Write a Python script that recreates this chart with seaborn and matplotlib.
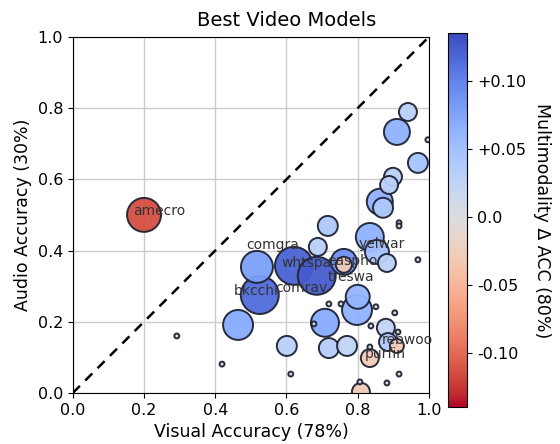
import numpy as np
import pandas as pd
import matplotlib
matplotlib.use("Agg")
import matplotlib.pyplot as plt
import seaborn as sns
from matplotlib.colors import Normalize
from matplotlib.cm import ScalarMappable

# ---- data ----
visual_acc = [0.200, 0.517, 0.525, 0.621, 0.685, 0.464, 0.601, 0.292, 0.419, 0.612,
              0.716, 0.688, 0.761, 0.761, 0.834, 0.854, 0.882, 0.969, 0.941, 0.910,
              0.997, 0.969, 0.899, 0.888, 0.862, 0.871, 0.916, 0.916, 0.800, 0.798,
              0.719, 0.753, 0.851, 0.904, 0.837, 0.913, 0.834, 0.916, 0.882, 0.806,
              0.677, 0.708, 0.719, 0.770, 0.879, 0.885, 0.910, 0.834, 0.809]
audio_acc = [0.500, 0.354, 0.275, 0.357, 0.329, 0.191, 0.132, 0.160, 0.081, 0.053,
             0.469, 0.410, 0.368, 0.360, 0.438, 0.396, 0.365, 0.374, 0.789, 0.733,
             0.711, 0.646, 0.607, 0.584, 0.537, 0.520, 0.478, 0.469, 0.270, 0.233,
             0.250, 0.250, 0.242, 0.225, 0.188, 0.171, 0.129, 0.053, 0.028, 0.031,
             0.194, 0.197, 0.126, 0.132, 0.183, 0.143, 0.132, 0.098, 0.003]
delta_acc = [-0.115, 0.08, 0.115, 0.12, 0.125, 0.07, 0.03, 0.0, 0.0, 0.0,
             0.04, 0.03, 0.09, -0.03, 0.065, 0.05, 0.03, 0.0, 0.03, 0.065,
             0.0, 0.045, 0.03, 0.03, 0.065, 0.04, 0.0, 0.0, 0.06, 0.065,
             0.0, 0.0, 0.0, 0.0, 0.0, 0.0, 0.0, 0.0, 0.0, 0.0,
             0.0, 0.07, 0.035, 0.025, 0.025, 0.04, -0.03, -0.03, -0.03]
support = [289, 256, 361, 361, 361, 225, 100, 6, 6, 6,
           100, 81, 169, 64, 196, 144, 81, 6, 81, 169,
           6, 100, 81, 81, 169, 100, 6, 6, 144, 225,
           6, 6, 6, 6, 6, 6, 6, 6, 6, 6,
           6, 196, 100, 100, 81, 81, 49, 81, 81]

label_names = ["amecro", "comgra", "whtspa", "easpho", "yelwar",
               "treswa", "bkcchi", "comrav", "rebwoo", "purfin"]
label_x = [0.244, 0.562, 0.657, 0.784, 0.868, 0.780, 0.514, 0.643, 0.938, 0.876]
label_y = [0.511, 0.416, 0.365, 0.371, 0.419, 0.326, 0.287, 0.295, 0.150, 0.110]

cbar_ticks = [-0.10, -0.05, 0.0, 0.05, 0.10]
cbar_ticklabels = ["-0.10", "-0.05", "0.0", "+0.05", "+0.10"]
axis_ticks = [0.0, 0.2, 0.4, 0.6, 0.8, 1.0]

df = pd.DataFrame({"visual": visual_acc, "audio": audio_acc,
                   "delta": delta_acc, "support": support})
df = df.sort_values("support", ascending=False, kind="stable")

vmin, vmax = -0.14, 0.135
cmap = "coolwarm_r"

fig = plt.figure(figsize=(5.6, 4.44), dpi=100)
ax = fig.add_axes([0.130, 0.115, 0.636, 0.802])
cax = fig.add_axes([0.800, 0.083, 0.034, 0.842])

ax.set_axisbelow(True)
ax.grid(True, color="#cccccc", linewidth=1.0)
ax.plot([0, 1], [0, 1], linestyle=(0, (4, 3)), color="black", linewidth=1.8, zorder=1)

sns.scatterplot(data=df, x="visual", y="audio", hue="delta", size="support",
                palette=cmap, hue_norm=(vmin, vmax),
                sizes=(0, 2.07 * 400), size_norm=(0, 400),
                edgecolor="#1e2233", linewidth=1.4, alpha=0.95,
                legend=False, ax=ax, zorder=2)

for name, lx, ly in zip(label_names, label_x, label_y):
    ax.text(lx, ly, name, ha="center", va="center", fontsize=10,
            color="#333333", zorder=5)

ax.set_xlim(0, 1)
ax.set_ylim(0, 1)
ax.set_xticks(axis_ticks)
ax.set_yticks(axis_ticks)
ax.tick_params(labelsize=11.5)
ax.set_xlabel("Visual Accuracy (78%)", fontsize=12.5)
ax.set_ylabel("Audio Accuracy (30%)", fontsize=12.5)
fig.text(0.511, 0.953, "Best Video Models", ha="center", va="center", fontsize=14)

sm = ScalarMappable(norm=Normalize(vmin=vmin, vmax=vmax), cmap=cmap)
cb = fig.colorbar(sm, cax=cax)
cb.set_ticks(cbar_ticks)
cb.set_ticklabels(cbar_ticklabels)
cb.ax.tick_params(labelsize=11.5)
cb.set_label("Multimodality Δ ACC (80%)", rotation=270, labelpad=18, fontsize=12.5)

fig.savefig("out.png", dpi=100)
